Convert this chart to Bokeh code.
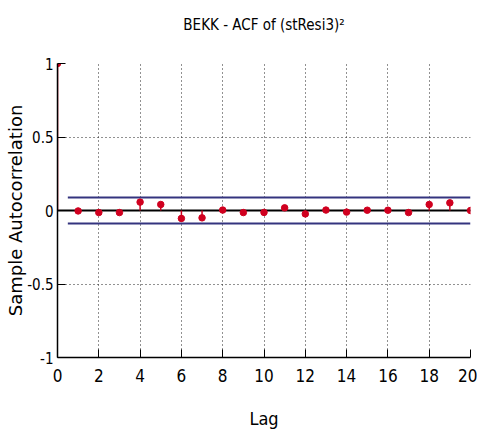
from bokeh.plotting import figure
from bokeh.models import Range1d, FixedTicker, Title
from bokeh.embed import file_html
from bokeh.resources import INLINE

# ---- data ----
lags = list(range(0, 21))
acf = [1.0, -0.003, -0.014, -0.014, 0.057, 0.041, -0.054, -0.050, 0.003, -0.014,
       -0.013, 0.018, -0.023, 0.003, -0.011, 0.002, 0.002, -0.014, 0.041, 0.052, 0.0]
bound = 0.088
bound_lags = [0.5, 20]
x_ticks = [0, 2, 4, 6, 8, 10, 12, 14, 16, 18, 20]
y_ticks = [-1, -0.5, 0, 0.5, 1]
y_tick_labels = {-1: "-1", -0.5: "-0.5", 0: "0", 0.5: "0.5", 1: "1"}
title_text = "BEKK - ACF of (stResi3)\u00b2"
x_label = "Lag"
y_label = "Sample Autocorrelation"

COND = "DejaVu Sans Condensed"

p = figure(width=477, height=434, output_backend="svg", toolbar_location=None,
           x_range=Range1d(0, 20), y_range=Range1d(-1, 1),
           min_border_left=57, min_border_right=7, min_border_top=63, min_border_bottom=77)
p.outline_line_color = None
p.background_fill_color = "white"
p.border_fill_color = "white"
p.title.text = ""

# spacer between frame and title (keeps the title near the top of the page)
spacer = Title(text=" ", text_font_size="10px", standoff=17, align="center")
p.add_layout(spacer, "above")
main_title = Title(text=title_text, text_font=COND, text_font_size="15px",
                   text_font_style="normal", align="center", vertical_align="bottom",
                   standoff=0, text_color="#000000")
p.add_layout(main_title, "above")

for ax in (p.xaxis[0], p.yaxis[0]):
    ax.major_tick_in = 8
    ax.major_tick_out = 0
    ax.minor_tick_in = 0
    ax.minor_tick_out = 0
    ax.axis_line_color = "black"
    ax.axis_line_width = 1.5
    ax.major_tick_line_color = "black"
    ax.major_label_text_font = COND
    ax.major_label_text_color = "black"
    ax.axis_label_text_color = "black"
    ax.axis_label_text_font_style = "normal"

p.xaxis.major_label_text_font_size = "17px"
p.yaxis.major_label_text_font_size = "15px"
p.xaxis.ticker = FixedTicker(ticks=x_ticks)
p.yaxis.ticker = FixedTicker(ticks=y_ticks)
p.yaxis.major_label_overrides = y_tick_labels
p.xaxis.major_label_standoff = 11
p.yaxis.major_label_standoff = 4

p.xaxis.axis_label = x_label
p.xaxis.axis_label_text_font = COND
p.xaxis.axis_label_text_font_size = "18px"
p.xaxis.axis_label_standoff = 23

p.yaxis.axis_label = y_label
p.yaxis.axis_label_text_font = "DejaVu Sans"
p.yaxis.axis_label_text_font_size = "18px"
p.yaxis.axis_label_standoff = -2

p.xgrid.ticker = FixedTicker(ticks=x_ticks)
p.ygrid.ticker = FixedTicker(ticks=y_ticks)
for g in (p.xgrid[0], p.ygrid[0]):
    g.grid_line_color = "#222222"
    g.grid_line_dash = "1 3"
    g.grid_line_width = 1

# confidence bounds
p.line(bound_lags, [bound, bound], line_color="#34347f", line_width=2)
p.line(bound_lags, [-bound, -bound], line_color="#34347f", line_width=2)
# zero line
p.line([lags[0], lags[-1]], [0, 0], line_color="black", line_width=2)
# stems
p.segment(x0=lags, y0=[0] * len(lags), x1=lags, y1=acf, line_color="#d0001f", line_width=1.5)
p.scatter(lags, acf, size=6.5, fill_color="#d0001f", line_color="#d0001f")

open("out.html", "w").write(file_html(p, INLINE))
